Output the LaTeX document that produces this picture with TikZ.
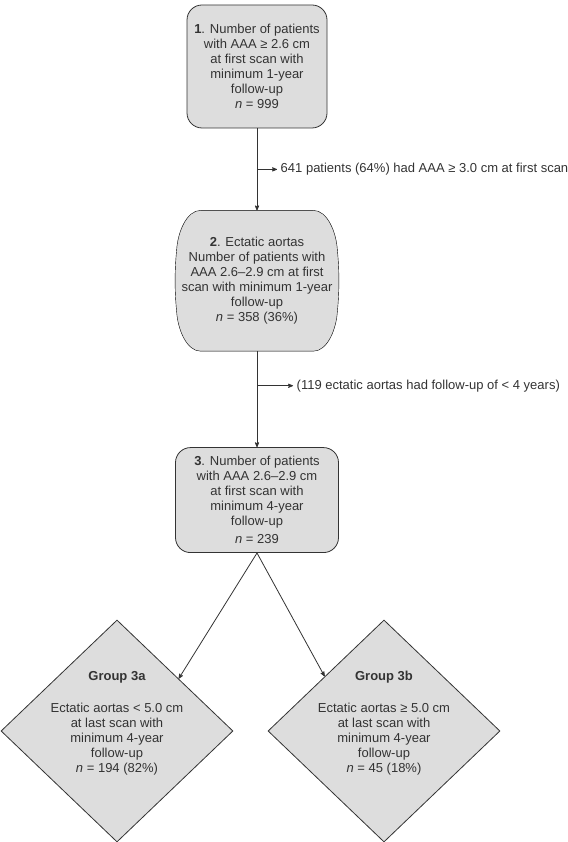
\documentclass[tikz,border=0pt]{standalone}
\usepackage{fontspec}
\setmainfont{Liberation Sans}
\usetikzlibrary{arrows, positioning, calc, shapes.geometric, backgrounds}
\definecolor{boxfill}{RGB}{221,221,221}
\definecolor{inkgray}{RGB}{51,51,51}

\begin{document}
\begin{tikzpicture}[x=1pt, y=1pt, >=stealth', line width=0.8pt, draw=inkgray,
    every node/.style={font=\fontsize{13pt}{15pt}\selectfont, text=inkgray},
    stepbox/.style={draw=inkgray, fill=boxfill, rounded corners=15pt, align=center},
    ectbox/.style={minimum width=162pt, minimum height=140pt, align=center},
    groupbox/.style={diamond, draw=inkgray, fill=boxfill, inner sep=0pt,
                     minimum width=232pt, minimum height=222pt},
    grouptext/.style={align=center},
    note/.style={anchor=west}]
\useasboundingbox (0,0) rectangle (567,842);

% define the boxes of the flow
  \node[stepbox, minimum width=140pt, minimum height=123pt] (b1) at (257,775.5)
        {\textbf{1}. Number of patients\\ with AAA ≥ 2.6 cm\\ at first scan with\\ minimum 1-year\\ follow-up\\ \textit{n} = 999};
  \node[ectbox] (b2) [below=82pt of b1]
        {\textbf{2}. Ectatic aortas\\ Number of patients with\\ AAA 2.6–2.9 cm at first\\ scan with minimum 1-year\\ follow-up\\ \textit{n} = 358 (36\%)};
  \node[stepbox, minimum width=163pt, minimum height=105pt] (b3) [below=96pt of b2]
        {\textbf{3}. Number of patients\\ with AAA 2.6–2.9 cm\\ at first scan with\\ minimum 4-year\\ follow-up\\[3pt] \textit{n} = 239};

% the two groups
  \node[groupbox] (d3a) at (117,111) {};
  \node[groupbox] (d3b) at (384,111) {};
  \node[grouptext] (t3a) at ([yshift=8pt]d3a.center)
        {\textbf{Group 3a}\\[17pt] Ectatic aortas < 5.0 cm\\ at last scan with\\ minimum 4-year\\ follow-up\\ \textit{n} = 194 (82\%)};
  \node[grouptext] (t3b) at ([yshift=8pt]d3b.center)
        {\textbf{Group 3b}\\[17pt] Ectatic aortas ≥ 5.0 cm\\ at last scan with\\ minimum 4-year\\ follow-up\\ \textit{n} = 45 (18\%)};

% outline of box 2
\begin{scope}[on background layer]
  \draw[fill=boxfill] ($(b2.north west)+(25,0)$) -- ($(b2.north east)+(-25,0)$)
        .. controls +(14,0) and +(-1,18) .. ($(b2.north east)+(-1,-40)$)
        .. controls +(2,-20) and +(2,20) .. ($(b2.south east)+(-1,40)$)
        .. controls +(-1,-18) and +(14,0) .. ($(b2.south east)+(-25,0)$)
        -- ($(b2.south west)+(25,0)$)
        .. controls +(-14,0) and +(1,-18) .. ($(b2.south west)+(1,40)$)
        .. controls +(-2,20) and +(-2,-20) .. ($(b2.north west)+(1,-40)$)
        .. controls +(1,18) and +(-14,0) .. ($(b2.north west)+(25,0)$) -- cycle;
\end{scope}

% excluded patients
  \coordinate (s1) at ($(b1.south)!0.5!(b2.north)$);
  \coordinate (s2) at ($(b2.south)!0.36!(b3.north)$);
  \node[note] (x1) [right=20pt of s1] {641 patients (64\%) had AAA ≥ 3.0 cm at first scan};
  \node[note] (x2) [right=36pt of s2] {(119 ectatic aortas had follow-up of < 4 years)};

% define the links
  \path[->] (b1.south) edge (b2.north)
            (b2.south) edge (b3.north)
            (s1) edge (x1.west)
            (s2) edge (x2.west)
            (b3.south) edge ($(d3a.north)!0.53!(d3a.east)$)
            (b3.south) edge ($(d3b.north)!0.51!(d3b.west)$);
\end{tikzpicture}
\end{document}
